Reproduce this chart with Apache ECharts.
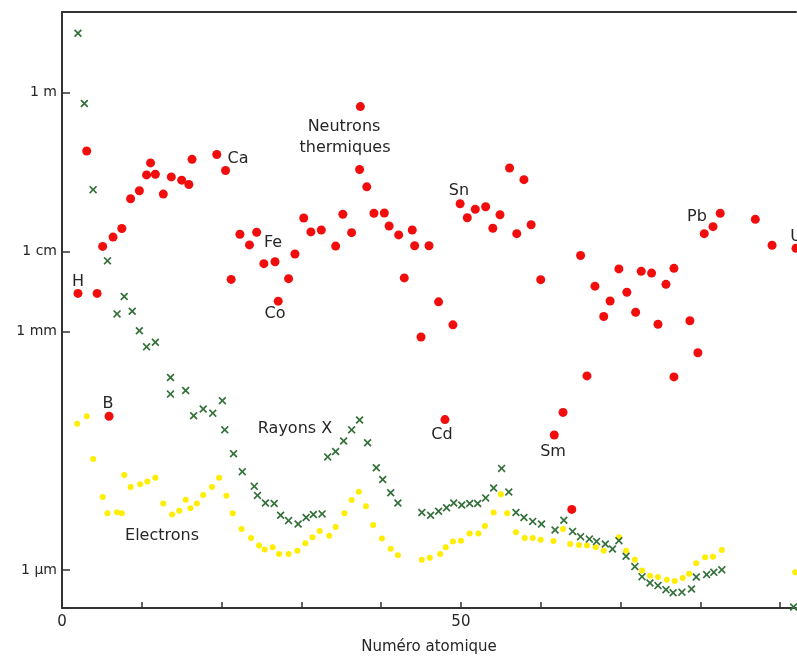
<!DOCTYPE html>
<html>
<head>
<meta charset="utf-8">
<script src="https://cdn.jsdelivr.net/npm/echarts@6/dist/echarts.min.js"></script>
<style>
  html, body { margin: 0; padding: 0; background: #fff; }
  #chart { width: 797px; height: 660px; }
</style>
</head>
<body>
<div id="chart"></div>
<script>
// atomic number vs. length (metres)
const neutronZ = [2.0,3.1,4.4,5.1,5.9,6.4,7.5,8.6,9.7,10.6,
  11.1,11.7,12.7,13.7,15.0,15.9,16.3,19.4,20.5,21.2,
  22.3,23.5,24.4,25.3,26.7,27.1,28.4,29.2,30.3,31.2,
  32.5,34.3,35.2,36.3,37.3,37.4,38.2,39.1,40.4,41.0,
  42.2,42.9,43.9,44.2,45.0,46.0,47.2,48.0,49.0,49.9,
  50.8,51.8,53.1,54.0,54.9,56.1,57.0,57.9,58.8,60.0,
  61.7,62.8,63.9,65.0,65.8,66.8,67.9,68.7,69.8,70.8,
  71.9,72.6,73.9,74.7,75.7,76.7,76.7,78.7,79.7,80.5,
  81.6,82.5,86.9,89.0,92.0];
const neutronL = [3.0e-3,0.185,3.0e-3,0.0117,8.6e-5,0.0153,0.0196,0.0464,0.0584,0.0925,
  0.131,0.0944,0.0531,0.0873,0.0794,0.0702,0.145,0.167,0.105,4.5e-3,
  0.0166,0.0122,0.0176,7.1e-3,7.5e-3,2.4e-3,4.6e-3,9.4e-3,0.0266,0.0178,
  0.0188,0.0118,0.0296,0.0174,0.108,0.668,0.0655,0.0305,0.0307,0.0211,
  0.0163,4.7e-3,0.0188,0.0119,8.5e-4,0.0119,2.35e-3,7.8e-5,1.21e-3,0.0402,
  0.0268,0.0342,0.0368,0.0198,0.0292,0.113,0.0169,0.0806,0.0219,4.47e-3,
  5.0e-5,9.6e-5,5.8e-6,9.0e-3,2.76e-4,3.7e-3,1.54e-3,2.41e-3,6.1e-3,3.1e-3,
  1.74e-3,5.7e-3,5.4e-3,1.23e-3,3.9e-3,6.2e-3,2.68e-4,1.36e-3,5.4e-4,0.0169,
  0.0207,0.0305,0.0256,0.0121,0.0111];

const xrayZ = [2.0,2.8,3.9,5.7,7.8,6.9,8.8,9.7,10.6,11.7,
  13.6,13.6,15.5,16.5,17.7,18.9,20.1,20.4,21.5,22.6,
  24.1,24.5,25.5,26.6,27.4,28.4,29.6,30.6,31.5,32.6,
  33.3,34.3,35.3,36.3,37.3,38.3,39.4,40.2,41.2,42.1,
  45.1,46.2,47.2,48.2,49.1,50.1,51.1,52.1,53.1,54.1,
  55.1,56.0,56.9,57.9,59.0,60.1,61.8,62.9,64.0,65.0,
  66.1,67.0,68.1,69.0,69.8,70.7,71.8,72.7,73.7,74.7,
  75.7,76.6,77.7,78.9,79.5,80.8,81.7,82.7,91.7];
const xrayL = [5.57,0.729,0.0604,7.7e-3,2.74e-3,1.66e-3,1.79e-3,1.02e-3,6.4e-4,7.3e-4,
  2.64e-4,1.63e-4,1.81e-4,8.7e-5,1.06e-4,9.4e-5,1.35e-4,5.8e-5,2.9e-5,1.73e-5,
  1.13e-5,8.7e-6,7.0e-6,6.9e-6,4.9e-6,4.2e-6,3.8e-6,4.6e-6,5.0e-6,5.1e-6,
  2.65e-5,3.1e-5,4.2e-5,5.8e-5,7.7e-5,4.0e-5,1.94e-5,1.38e-5,9.4e-6,7.0e-6,
  5.3e-6,4.9e-6,5.5e-6,6.1e-6,7.0e-6,6.6e-6,6.9e-6,6.9e-6,8.1e-6,1.08e-5,
  1.9e-5,9.6e-6,5.3e-6,4.6e-6,4.1e-6,3.8e-6,3.2e-6,4.25e-6,3.07e-6,2.64e-6,
  2.46e-6,2.3e-6,2.13e-6,1.85e-6,2.35e-6,1.5e-6,1.11e-6,8.3e-7,6.9e-7,6.4e-7,
  5.7e-7,5.2e-7,5.3e-7,5.8e-7,8.2e-7,8.8e-7,9.4e-7,1.01e-6,3.45e-7];

const elecZ = [1.9,3.1,3.9,5.1,5.7,6.9,7.5,7.8,8.6,9.8,
  10.7,11.7,12.7,13.8,14.7,15.5,16.1,16.9,17.7,18.8,
  19.7,20.6,21.4,22.5,23.7,24.7,25.4,26.4,27.2,28.4,
  29.5,30.5,31.4,32.3,33.5,34.3,35.4,36.3,37.2,38.1,
  39.0,40.1,41.2,42.1,45.1,46.1,47.4,48.1,49.0,50.0,
  51.1,52.2,53.0,54.1,55.0,55.8,56.9,58.0,59.0,60.0,
  61.6,62.8,63.7,64.8,65.8,66.9,67.9,69.8,70.7,71.8,
  72.7,73.7,74.7,75.8,76.8,77.8,78.6,79.5,80.6,81.6,
  82.7,91.9];
const elecL = [6.9e-5,8.6e-5,2.5e-5,8.3e-6,5.2e-6,5.35e-6,5.2e-6,1.57e-5,1.11e-5,1.2e-5,
  1.3e-5,1.45e-5,6.9e-6,5.0e-6,5.6e-6,7.65e-6,6.0e-6,6.9e-6,8.8e-6,1.11e-5,
  1.45e-5,8.6e-6,5.2e-6,3.3e-6,2.54e-6,2.04e-6,1.82e-6,1.94e-6,1.6e-6,1.6e-6,
  1.76e-6,2.18e-6,2.6e-6,3.1e-6,2.7e-6,3.5e-6,5.2e-6,7.6e-6,9.7e-6,6.35e-6,
  3.7e-6,2.5e-6,1.86e-6,1.54e-6,1.35e-6,1.43e-6,1.6e-6,1.94e-6,2.3e-6,2.35e-6,
  2.9e-6,2.9e-6,3.6e-6,5.3e-6,9.0e-6,5.2e-6,3.0e-6,2.54e-6,2.54e-6,2.42e-6,
  2.32e-6,3.3e-6,2.13e-6,2.07e-6,2.05e-6,1.94e-6,1.76e-6,2.6e-6,1.76e-6,1.35e-6,
  9.9e-7,8.5e-7,8.2e-7,7.6e-7,7.3e-7,8.0e-7,9.0e-7,1.22e-6,1.45e-6,1.48e-6,
  1.79e-6,9.4e-7];

const yTickValues = [1e-6, 1e-3, 1e-2, 1];
const yTickNames = ['1 µm', '1 mm', '1 cm', '1 m'];
const xLabelValues = [0, 50];

function pairs(zs, ls) {
  return zs.map((z, i) => [z, ls[i]]);
}

const FONT = '"DejaVu Sans", sans-serif';
const TXT = '#262626';
function note(text, x, y) {
  return {
    type: 'text', x: x, y: y,
    style: { text: text, font: '16px ' + FONT, fill: TXT, textAlign: 'center', textVerticalAlign: 'middle' }
  };
}

const chart = echarts.init(document.getElementById('chart'));
chart.setOption({
  animation: false,
  backgroundColor: '#fff',
  grid: { left: 62, right: 1, top: 12, bottom: 49 },
  xAxis: [{
    type: 'value', min: 0, max: 92, interval: 10,
    name: 'Numéro atomique', nameLocation: 'middle', nameGap: 32,
    nameTextStyle: { fontFamily: FONT, fontSize: 15, color: TXT },
    axisLine: { lineStyle: { color: '#333', width: 2 } },
    axisTick: { inside: true, length: 6, lineStyle: { color: '#333', width: 1.5 },
      customValues: [10, 20, 30, 40, 50, 60, 70, 80, 90] },
    axisLabel: { customValues: xLabelValues, fontFamily: FONT, fontSize: 15, color: TXT, margin: 7 },
    splitLine: { show: false }
  }, {
    type: 'value', position: 'top', min: 0, max: 92,
    axisLine: { show: true, onZero: false, lineStyle: { color: '#333', width: 2 } },
    axisTick: { show: false }, axisLabel: { show: false }, splitLine: { show: false }
  }],
  yAxis: {
    type: 'log', logBase: 10, min: 3.35e-7, max: 10.3,
    axisLine: { show: true, lineStyle: { color: '#333', width: 2 } },
    axisTick: { inside: true, length: 8, lineStyle: { color: '#333', width: 1.5 },
      customValues: yTickValues },
    axisLabel: {
      customValues: yTickValues, fontFamily: FONT, fontSize: 14, color: TXT, margin: 5,
      formatter: function (v) {
        for (let i = 0; i < yTickValues.length; i++) {
          if (Math.abs(Math.log10(v) - Math.log10(yTickValues[i])) < 0.01) return yTickNames[i];
        }
        return '';
      }
    },
    splitLine: { show: false }
  },
  series: [{
    name: 'Electrons', type: 'scatter', symbol: 'circle', symbolSize: 6,
    itemStyle: { color: '#ffee00', opacity: 1 }, data: pairs(elecZ, elecL)
  }, {
    name: 'Rayons X', type: 'scatter', symbolSize: 8,
    symbol: 'path://M0,1.5 L1.5,0 L5,3.5 L8.5,0 L10,1.5 L6.5,5 L10,8.5 L8.5,10 L5,6.5 L1.5,10 L0,8.5 L3.5,5 Z',
    itemStyle: { color: '#34703a', opacity: 1 }, data: pairs(xrayZ, xrayL)
  }, {
    name: 'Neutrons thermiques', type: 'scatter', symbol: 'circle', symbolSize: 9,
    itemStyle: { color: '#f20d0d', opacity: 1 }, data: pairs(neutronZ, neutronL)
  }],
  graphic: [
    note('H', 78, 282), note('B', 108, 404), note('Ca', 238, 159),
    note('Fe', 273, 243), note('Co', 275, 314), note('Sn', 459, 191),
    note('Cd', 442, 435), note('Sm', 553, 452), note('Pb', 697, 217),
    note('U', 796, 237),
    note('Neutrons', 344, 127), note('thermiques', 345, 148),
    note('Rayons X', 295, 429), note('Electrons', 162, 536)
  ]
});
</script>
</body>
</html>
